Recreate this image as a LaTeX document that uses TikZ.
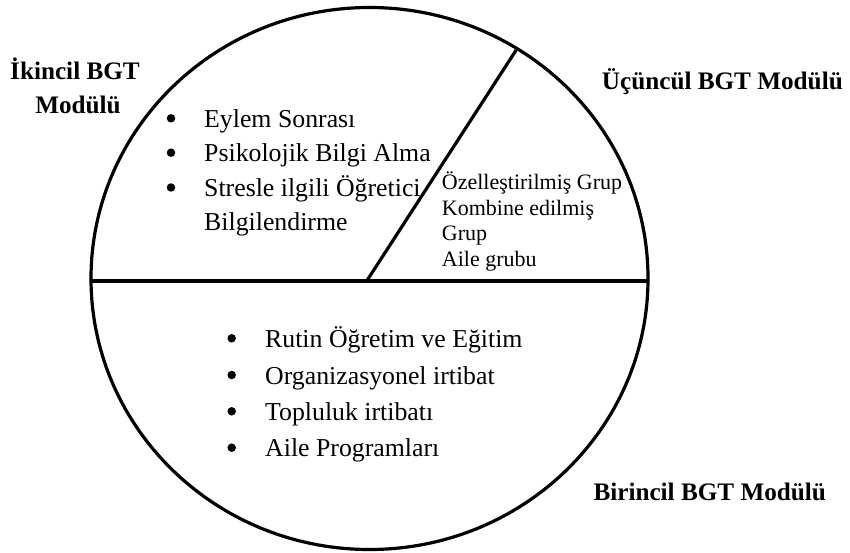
\documentclass[tikz,border=0pt]{standalone}
\usepackage{fontspec}
\setmainfont{Liberation Serif}
\usetikzlibrary{shapes.geometric}
\begin{document}
\begin{tikzpicture}[x=1pt,y=-1pt,
  edge/.style={line width=3.2pt},
  item/.style={anchor=base west,inner sep=0pt,font=\fontsize{25.8}{30}\selectfont},
  small/.style={anchor=base west,inner sep=0pt,font=\fontsize{22}{25}\selectfont},
  label/.style={anchor=base,inner sep=0pt,font=\fontsize{25.2}{28}\selectfont\bfseries},
  blt/.style={circle,fill=black,inner sep=0pt,minimum size=8.5pt}]
\useasboundingbox (0,0) rectangle (850,553);
% circle and dividers
\node[draw,ellipse,edge,minimum width=557pt,minimum height=542pt,inner sep=0pt] (c) at (369.5,278.5) {};
\coordinate (hl) at (91,281);
\coordinate (hr) at (648,281);
\coordinate (dtop) at (516.2,50.0);
\coordinate (dbot) at (366.7,281);
\draw[edge] (hl) -- (hr);
\draw[edge] (dbot) -- (dtop);
% module labels
\node[label] (ik1) at (75,80) {İkincil BGT};
\node[label] (ik2) at (78,113.3) {Modülü};
\node[label,anchor=base west] (uc) at (601.7,90) {Üçüncül BGT Modülü};
\node[label,anchor=base west] (bir) at (593.3,500) {Birincil BGT Modülü};
% secondary list
\node[item] (s1) at (204,127.3) {Eylem Sonrası};
\node[item] (s2) at (204,161.7) {Psikolojik Bilgi Alma};
\node[item] (s3) at (204,196.5) {Stresle ilgili Öğretici};
\node[item] (s4) at (204,230.5) {Bilgilendirme};
\node[blt] (b1) at (171,118.3) {};
\node[blt] (b2) at (171,152.7) {};
\node[blt] (b3) at (171,187.5) {};
% tertiary list
\node[small] (t1) at (441.7,190) {Özelleştirilmiş Grup};
\node[small] (t2) at (441.7,215) {Kombine edilmiş};
\node[small] (t3) at (441.7,240.5) {Grup};
\node[small] (t4) at (441.7,266) {Aile grubu};
% primary list
\node[item] (p1) at (265,347.3) {Rutin Öğretim ve Eğitim};
\node[item] (p2) at (265,384) {Organizasyonel irtibat};
\node[item] (p3) at (265,420.3) {Topluluk irtibatı};
\node[item] (p4) at (265,456.7) {Aile Programları};
\node[blt] (q1) at (231.7,338.3) {};
\node[blt] (q2) at (231.7,375) {};
\node[blt] (q3) at (231.7,411.3) {};
\node[blt] (q4) at (231.7,447.7) {};
\end{tikzpicture}
\end{document}
